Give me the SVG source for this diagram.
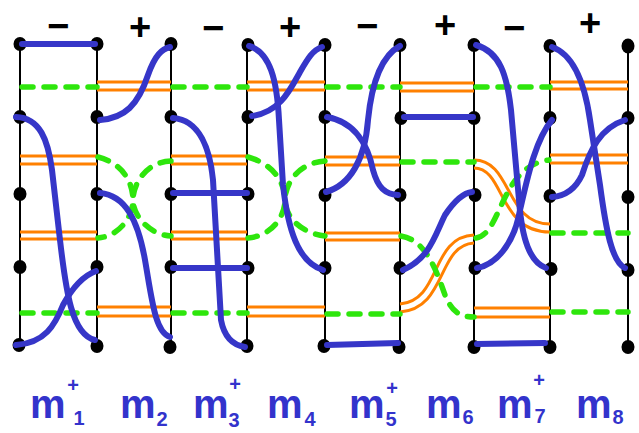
<svg xmlns="http://www.w3.org/2000/svg" width="639" height="433" viewBox="0 0 639 433">
<style>
.v{stroke:#000;stroke-width:2;fill:none}
.d{fill:#000}
.b{stroke:#3636c8;stroke-width:6;fill:none;stroke-linecap:round}
.o{stroke:#ff8000;stroke-width:3;fill:none}
.g{stroke:#2ee60c;stroke-width:5.5;fill:none;stroke-dasharray:11 11;stroke-linecap:round}
.s{font-family:"Liberation Sans",Arial,sans-serif;font-weight:bold;font-size:38px;fill:#000;text-anchor:middle}
.m{font-family:"Liberation Sans",Arial,sans-serif;font-weight:bold;font-size:40px;fill:#3333cc}
.sub{font-family:"Liberation Sans",Arial,sans-serif;font-weight:bold;font-size:20px;fill:#3333cc;text-anchor:middle}
</style>
<rect width="639" height="433" fill="#fff"/>
<g id="signs">
<text class="s" x="58" y="39">−</text>
<text class="s" x="140" y="40">+</text>
<text class="s" x="213" y="41">−</text>
<text class="s" x="290" y="40">+</text>
<text class="s" x="367" y="39">−</text>
<text class="s" x="445" y="38">+</text>
<text class="s" x="514" y="41">−</text>
<text class="s" x="590" y="36">+</text>
</g>
<g id="strand1"><line class="v" x1="20" y1="44" x2="20" y2="345"/><ellipse class="d" cx="20" cy="44" rx="6.5" ry="7"/><ellipse class="d" cx="20" cy="117" rx="6.5" ry="7"/><ellipse class="d" cx="20" cy="194" rx="6.5" ry="7"/><ellipse class="d" cx="20" cy="267" rx="6.5" ry="7"/><ellipse class="d" cx="19" cy="345" rx="6.5" ry="7"/></g>
<g id="strand2"><line class="v" x1="97" y1="44" x2="97" y2="345"/><ellipse class="d" cx="97" cy="44" rx="6.5" ry="7"/><ellipse class="d" cx="97" cy="117" rx="6.5" ry="7"/><ellipse class="d" cx="97" cy="194" rx="6.5" ry="7"/><ellipse class="d" cx="97" cy="267" rx="6.5" ry="7"/><ellipse class="d" cx="97" cy="346" rx="6.5" ry="7"/></g>
<g id="strand3"><line class="v" x1="171" y1="44" x2="171" y2="345"/><ellipse class="d" cx="171" cy="44" rx="6.5" ry="7"/><ellipse class="d" cx="171" cy="117" rx="6.5" ry="7"/><ellipse class="d" cx="171" cy="194" rx="6.5" ry="7"/><ellipse class="d" cx="171" cy="267" rx="6.5" ry="7"/><ellipse class="d" cx="170" cy="347" rx="6.5" ry="7"/></g>
<g id="strand4"><line class="v" x1="247" y1="44" x2="247" y2="345"/><ellipse class="d" cx="248" cy="45" rx="6.5" ry="7"/><ellipse class="d" cx="248" cy="117" rx="6.5" ry="7"/><ellipse class="d" cx="248" cy="194" rx="6.5" ry="7"/><ellipse class="d" cx="248" cy="268" rx="6.5" ry="7"/><ellipse class="d" cx="247" cy="346" rx="6.5" ry="7"/></g>
<g id="strand5"><line class="v" x1="325" y1="44" x2="325" y2="345"/><ellipse class="d" cx="325" cy="45" rx="6.5" ry="7"/><ellipse class="d" cx="325" cy="117" rx="6.5" ry="7"/><ellipse class="d" cx="325" cy="195" rx="6.5" ry="7"/><ellipse class="d" cx="325" cy="268" rx="6.5" ry="7"/><ellipse class="d" cx="324" cy="346" rx="6.5" ry="7"/></g>
<g id="strand6"><line class="v" x1="400" y1="44" x2="400" y2="345"/><ellipse class="d" cx="400" cy="45" rx="6.5" ry="7"/><ellipse class="d" cx="401" cy="118" rx="6.5" ry="7"/><ellipse class="d" cx="400" cy="195" rx="6.5" ry="7"/><ellipse class="d" cx="400" cy="268" rx="6.5" ry="7"/><ellipse class="d" cx="399" cy="347" rx="6.5" ry="7"/></g>
<g id="strand7"><line class="v" x1="474" y1="44" x2="474" y2="345"/><ellipse class="d" cx="474" cy="45" rx="6.5" ry="7"/><ellipse class="d" cx="474" cy="118" rx="6.5" ry="7"/><ellipse class="d" cx="475" cy="195" rx="6.5" ry="7"/><ellipse class="d" cx="475" cy="268" rx="6.5" ry="7"/><ellipse class="d" cx="474" cy="347" rx="6.5" ry="7"/></g>
<g id="strand8"><line class="v" x1="550" y1="44" x2="550" y2="345"/><ellipse class="d" cx="550" cy="46" rx="6.5" ry="7"/><ellipse class="d" cx="550" cy="118" rx="6.5" ry="7"/><ellipse class="d" cx="550" cy="196" rx="6.5" ry="7"/><ellipse class="d" cx="551" cy="269" rx="6.5" ry="7"/><ellipse class="d" cx="550" cy="347" rx="6.5" ry="7"/></g>
<g id="strand9"><line class="v" x1="628" y1="46" x2="628" y2="347"/><ellipse class="d" cx="628" cy="46" rx="6.5" ry="7.5"/><ellipse class="d" cx="628" cy="118" rx="6.5" ry="7"/><ellipse class="d" cx="628" cy="197" rx="6.5" ry="7"/><ellipse class="d" cx="628" cy="270" rx="6.5" ry="7"/><ellipse class="d" cx="628" cy="347" rx="6.5" ry="7"/></g>
<g id="connectors">
<g id="orange">
<path class="o" d="M97,82H171M97,90H171M247,82H325M247,90H325M400,83H474M400,91H474M550,82H628M550,89H628"/>
<path class="o" d="M20,156H97M20,164H97M171,156H247M171,164H247M325,157H400M325,165H400M550,155H628M550,163H628"/>
<path class="o" d="M20,232H97M20,239H97M171,232H247M171,239H247M325,233H400M325,240H400"/>
<path class="o" d="M97,307H171M97,316H171M247,307H325M247,316H325M474,308H550M474,317H550"/>
<path class="o" d="M400,304C442,300 430,237 474,235M400,312C447,309 437,245 474,243"/>
<path class="o" d="M474,160C512,160 505,224 550,224M474,168C505,168 498,232 550,232"/>
</g>
<g id="green">
<path class="g" d="M22,87H97M173,87H247M327,87H400M476,87H550"/>
<path class="g" d="M402,162H474M552,233H628"/>
<path class="g" d="M22,313H97M173,313H247M327,314H400M552,312H628"/>
<path class="g" d="M98,157C125,164 133,185 133,200C133,216 150,235 171,236"/>
<path class="g" d="M171,161C145,162 133,185 133,200C133,216 120,236 98,238"/>
<path class="g" d="M248,157C276,165 285,185 285,200C285,216 300,233 325,236"/>
<path class="g" d="M325,161C297,163 285,185 285,200C285,216 272,236 248,238"/>
<path class="g" d="M401,236C426,240 436,270 445,295C452,312 460,317 474,317"/>
<path class="g" d="M476,238C502,234 500,166 549,160"/>
</g>
<g id="blue">
<path class="b" d="M22,44H95"/>
<path class="b" d="M16,117C40,118 48,140 52,170L60,240C66,292 72,335 95,340"/>
<path class="b" d="M96,271C80,277 70,292 63,305C55,325 45,343 16,345"/>
<path class="b" d="M100,120C125,118 138,105 148,75C155,55 162,49 170,47"/>
<path class="b" d="M100,193C125,195 138,220 145,260C152,300 155,332 170,337"/>
<path class="b" d="M173,118C200,120 210,150 213,180L221,320C224,336 232,345 245,347"/>
<path class="b" d="M173,193H247M173,268H247"/>
<path class="b" d="M249,46C270,52 277,80 279,120L283,185C288,230 298,262 323,270"/>
<path class="b" d="M252,116C280,112 290,90 300,72C308,58 313,50 322,47"/>
<path class="b" d="M327,117C355,122 368,145 373,170C378,188 385,194 398,195"/>
<path class="b" d="M400,46C383,55 372,80 368,120C365,160 350,185 326,192"/>
<path class="b" d="M327,345L398,343"/>
<path class="b" d="M404,117H473"/>
<path class="b" d="M403,270C430,258 435,235 445,215C455,200 463,193 472,192"/>
<path class="b" d="M476,45C500,52 507,75 511,110L519,200C522,240 530,262 546,268"/>
<path class="b" d="M552,120C535,140 527,180 520,210C514,245 495,265 477,268"/>
<path class="b" d="M477,344L545,343"/>
<path class="b" d="M552,47C575,55 585,85 590,120L600,185C606,230 612,262 625,268"/>
<path class="b" d="M625,120C600,128 590,150 582,175C575,190 565,196 552,197"/>
</g>
</g>
<g id="labels">
<text class="m" x="30" y="418">m</text><text class="sub" x="73" y="392">+</text><text class="sub" x="79" y="425">1</text>
<text class="m" x="120" y="418">m</text><text class="sub" x="162" y="426">2</text>
<text class="m" x="193" y="418">m</text><text class="sub" x="235" y="391">+</text><text class="sub" x="234" y="427">3</text>
<text class="m" x="267" y="418">m</text><text class="sub" x="310" y="426">4</text>
<text class="m" x="349" y="418">m</text><text class="sub" x="392" y="395">+</text><text class="sub" x="391" y="426">5</text>
<text class="m" x="426" y="418">m</text><text class="sub" x="468" y="424">6</text>
<text class="m" x="497" y="418">m</text><text class="sub" x="539" y="387">+</text><text class="sub" x="540" y="423">7</text>
<text class="m" x="576" y="418">m</text><text class="sub" x="618" y="424">8</text>
</g>
</svg>
